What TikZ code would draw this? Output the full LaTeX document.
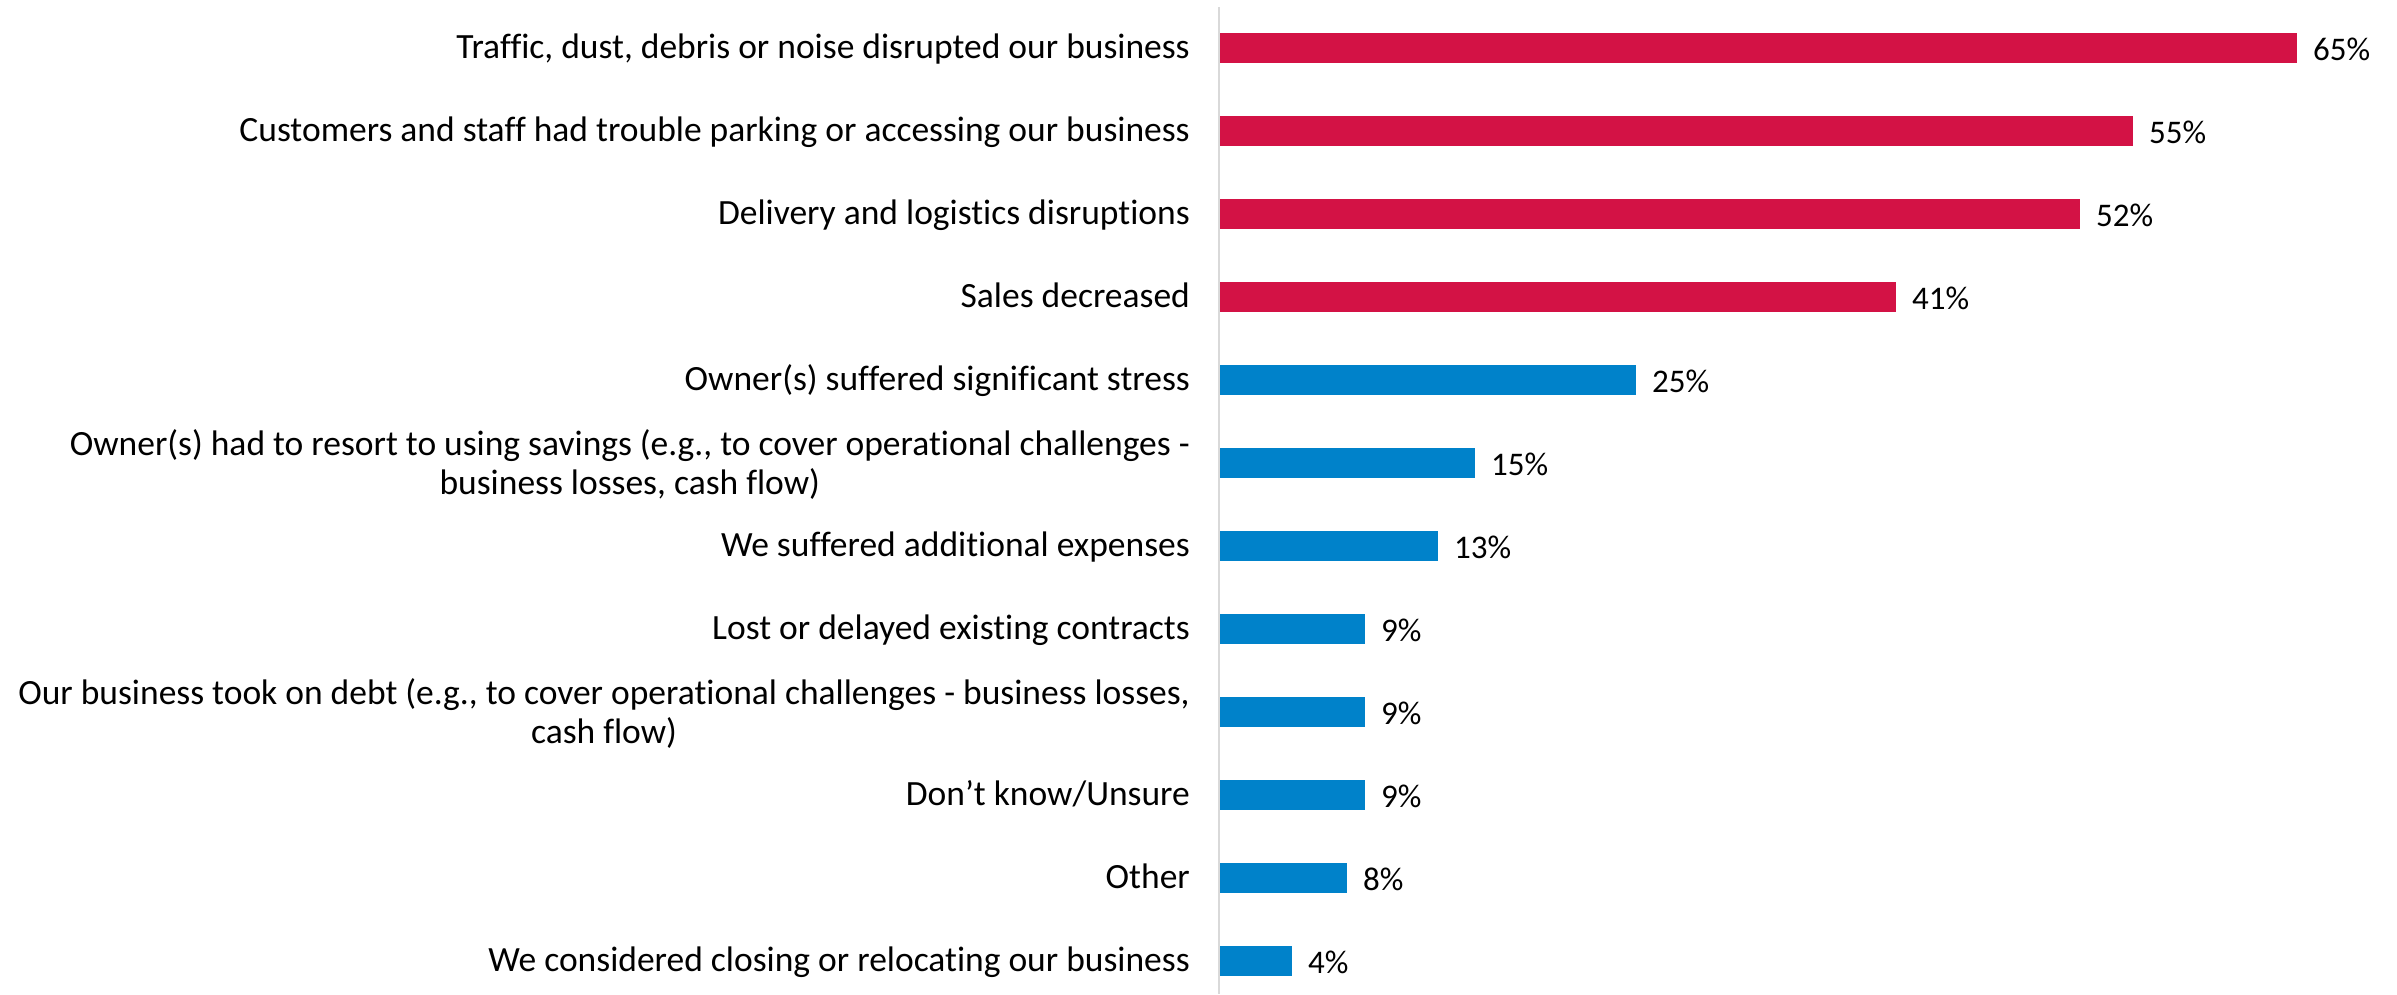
\documentclass[tikz,border=0pt]{standalone}
\usepackage{fontspec}
\setmainfont[Ligatures={NoCommon,NoRequired,NoContextual}]{Carlito}
\definecolor{barred}{RGB}{211,18,69}
\definecolor{barblue}{RGB}{0,130,202}
\definecolor{axisgray}{RGB}{217,217,217}
\begin{document}
\begin{tikzpicture}[x=1pt,y=-1pt,
  txt/.style={inner sep=0pt, font=\fontsize{35.5}{39}\selectfont},
  lab/.style={txt, anchor=base east},
  labtwo/.style={txt, anchor=east, align=center},
  val/.style={inner sep=0pt, anchor=base west, font=\fontsize{33}{39}\selectfont},
  redbar/.style={fill=barred},
  bluebar/.style={fill=barblue}]
\useasboundingbox (0,0) rectangle (2397,994);
\draw[axisgray, line width=2pt] (1219,7) -- (1219,994);
% bars
\fill[redbar]  (1220,33)  rectangle (2297,63);
\fill[redbar]  (1220,116) rectangle (2133,146);
\fill[redbar]  (1220,199) rectangle (2080,229);
\fill[redbar]  (1220,282) rectangle (1896,312);
\fill[bluebar] (1220,365) rectangle (1636,395);
\fill[bluebar] (1220,448) rectangle (1475,478);
\fill[bluebar] (1220,531) rectangle (1438,561);
\fill[bluebar] (1220,614) rectangle (1365,644);
\fill[bluebar] (1220,697) rectangle (1365,727);
\fill[bluebar] (1220,780) rectangle (1365,810);
\fill[bluebar] (1220,863) rectangle (1347,893);
\fill[bluebar] (1220,946) rectangle (1292,976);
% category labels
\node[lab] (l1) at (1190,58.5) {Traffic, dust, debris or noise disrupted our business};
\node[lab] (l2) at (1190,141.5) {Customers and staff had trouble parking or accessing our business};
\node[lab] (l3) at (1190,224.5) {Delivery and logistics disruptions};
\node[lab] (l4) at (1190,307.5) {Sales decreased};
\node[lab] (l5) at (1190,390.5) {Owner(s) suffered significant stress};
\node[labtwo] (l6) at (1190,464) {Owner(s) had to resort to using savings (e.g., to cover operational challenges -\\business losses, cash flow)};
\node[lab] (l7) at (1190,556.5) {We suffered additional expenses};
\node[lab] (l8) at (1190,639.5) {Lost or delayed existing contracts};
\node[labtwo] (l9) at (1190,713) {Our business took on debt (e.g., to cover operational challenges - business losses,\\cash flow)};
\node[lab] (l10) at (1190,805.5) {Don’t know/Unsure};
\node[lab] (l11) at (1190,888.5) {Other};
\node[lab] (l12) at (1190,971.5) {We considered closing or relocating our business};
% value labels
\node[val] (v1) at (2313,60) {65\%};
\node[val] (v2) at (2149,143) {55\%};
\node[val] (v3) at (2096,226) {52\%};
\node[val] (v4) at (1912,309) {41\%};
\node[val] (v5) at (1652,392) {25\%};
\node[val] (v6) at (1491,475) {15\%};
\node[val] (v7) at (1454,558) {13\%};
\node[val] (v8) at (1381,641) {9\%};
\node[val] (v9) at (1381,724) {9\%};
\node[val] (v10) at (1381,807) {9\%};
\node[val] (v11) at (1363,890) {8\%};
\node[val] (v12) at (1308,973) {4\%};
\end{tikzpicture}
\end{document}
